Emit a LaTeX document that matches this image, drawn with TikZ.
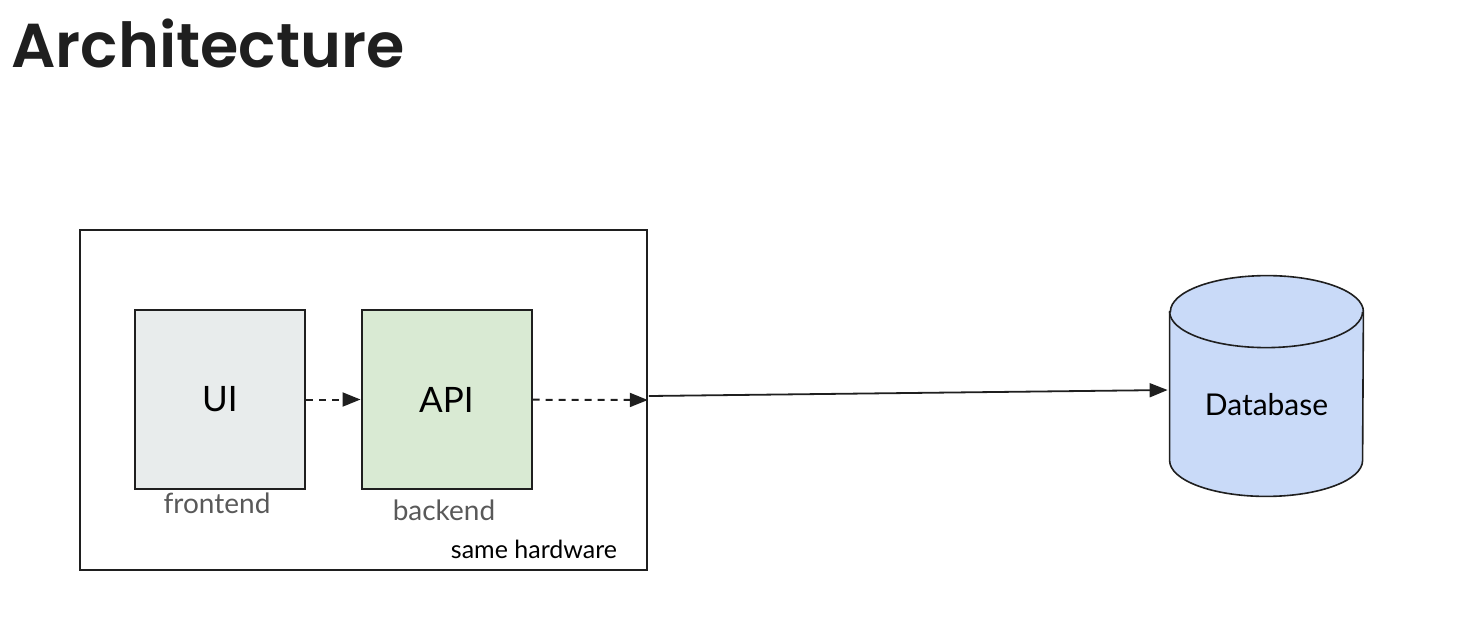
\documentclass[tikz,border=0pt]{standalone}
\usepackage{fontspec}
\setmainfont{Lato}
\newfontfamily\titlefont{Poppins SemiBold}
\usetikzlibrary{arrows.meta, positioning, calc}
\definecolor{uigray}{HTML}{E8ECEC}
\definecolor{apigreen}{HTML}{D9EAD3}
\definecolor{dbblue}{HTML}{C9DAF8}
\definecolor{labelgray}{HTML}{595959}
\definecolor{inkline}{HTML}{1F1F1F}

\begin{document}
\begin{tikzpicture}[x=0.5pt,y=-0.5pt,
		comp/.style={draw=inkline,line width=1pt,minimum width=85pt,minimum height=89.5pt,inner sep=0pt,font=\fontsize{17.5}{20}\selectfont},
		note/.style={text=labelgray,inner sep=0pt,font=\fontsize{14}{16}\selectfont},
		dep/.style={draw=inkline,line width=1pt,dash pattern=on 3.5pt off 3pt,-{Triangle[length=9pt,width=7pt]}},
		link/.style={draw=inkline,line width=0.9pt,-{Triangle[length=9pt,width=7pt]}}
		]
		\useasboundingbox (0,0) rectangle (1468,618);
		\node (title) [anchor=base west,inner sep=0pt,text=inkline,font=\titlefont\fontsize{31}{36}\selectfont] at (11,67) {Architecture};
		\node (host) [draw=inkline,line width=0.8pt,minimum width=283.5pt,minimum height=170pt,inner sep=0pt] at (363.5,400) {};
		\node (ui) [comp,fill=uigray] at (220,399.5) {UI};
		\node (api) [comp,fill=apigreen] at (446.5,399.5) {API};
		\node (fe) [note] at (217,503) {frontend};
		\node (be) [note] at (444,510) {backend};
		\node (hw) [note,text=black,font=\fontsize{12.5}{15}\selectfont] at (534,549) {same hardware};
		% database cylinder
		\node (db) [minimum width=96.5pt,minimum height=110pt,inner sep=0pt] at (1266.5,386) {};
		\filldraw [draw=inkline,fill=dbblue,line width=0.8pt] ([yshift=-18pt]db.north west) -- ([yshift=18pt]db.south west)
			arc[start angle=180,end angle=0,x radius=96.5,y radius=36] -- ([yshift=-18pt]db.north east)
			arc[start angle=0,end angle=-180,x radius=96.5,y radius=36] -- cycle;
		\draw [draw=inkline,line width=0.8pt] ([yshift=-18pt]db.north west) arc[start angle=180,end angle=0,x radius=96.5,y radius=36];
		\node (dbtext) [inner sep=0pt,font=\fontsize{15}{18}\selectfont] at ([yshift=-9.5pt]db.center) {Database};
		\draw [dep] (ui) -- (api);
		\draw [dep] (api) -- (host.east);
		\draw [link] ([shift={(1,-4)}]host.east) -- ([shift={(-2,4)}]db.west);
	\end{tikzpicture}
\end{document}
